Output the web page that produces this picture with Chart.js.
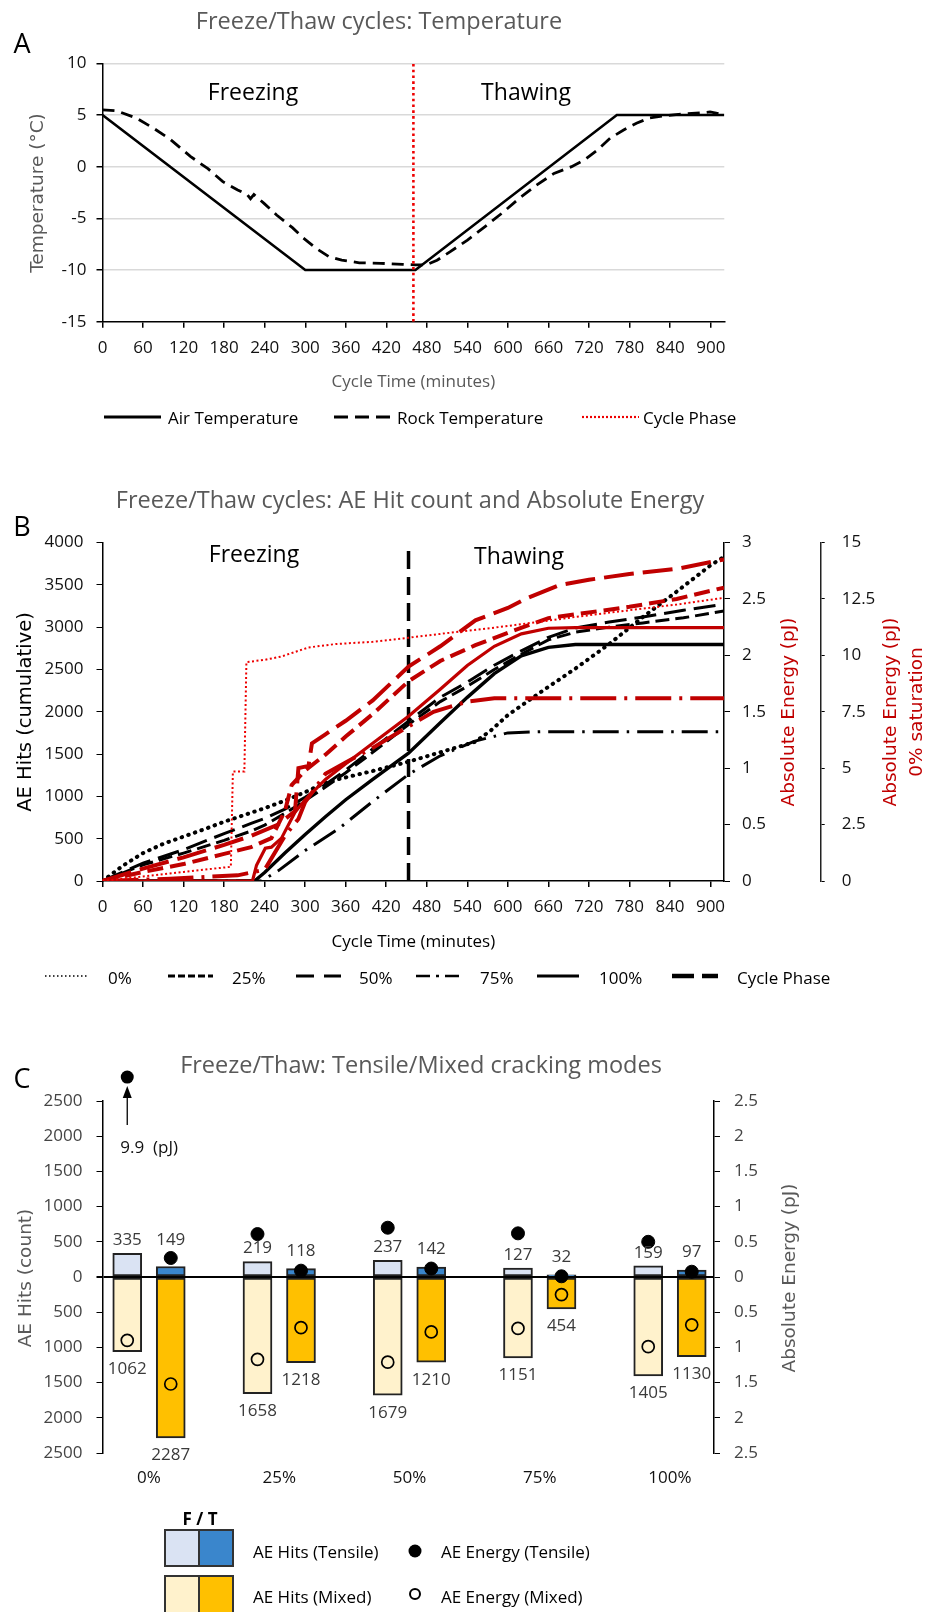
<!DOCTYPE html>
<html>
<head>
<meta charset="utf-8">
<title>Freeze/Thaw cycles</title>
<script src="https://cdn.jsdelivr.net/npm/chart.js@4.4.1/dist/chart.umd.min.js"></script>
<style>
  body { margin: 0; background: #fff; }
  #page { position: relative; width: 927px; height: 1612px; overflow: hidden; font-family: 'Open Sans', sans-serif; color: #000; }
  #page canvas { position: absolute; left: 0; }
  .txt { position: absolute; white-space: nowrap; line-height: 1; transform: translate(-50%, -50%); }
  .lft { transform: translate(0, -50%); }
  .rot { transform: translate(-50%, -50%) rotate(-90deg); font-family: 'DejaVu Sans', sans-serif; font-size: 18.5px; }
</style>
</head>
<body>
<div id="page">
  <canvas id="deco" width="927" height="1612" style="top:0"></canvas>
  <canvas id="chartA" width="927" height="440" style="top:0"></canvas>
  <canvas id="chartB" width="927" height="540" style="top:460px"></canvas>
  <canvas id="chartC" width="927" height="460" style="top:1040px"></canvas>
</div>
<script>
// ---- A: temperature (minutes, deg C)
const airTime = [0, 300, 463, 761, 920]
const airTemp = [5, -10, -10, 5, 5]
const rockTime = [0, 21, 50, 76, 101, 130, 156, 178, 200, 214, 219, 224, 239, 258, 281, 297, 316, 335, 354, 380, 412, 444, 463, 479, 495, 514, 540, 566, 591, 617, 642, 668, 694, 713, 732, 751, 771, 790, 809, 835, 860, 886, 899, 920]
const rockTemp = [5.5, 5.4, 4.7, 3.7, 2.6, 1.0, -0.2, -1.45, -2.25, -2.7, -3.1, -2.7, -3.55, -4.7, -5.9, -6.9, -7.9, -8.7, -9.05, -9.3, -9.35, -9.45, -9.5, -9.5, -9.05, -8.25, -7.1, -5.8, -4.5, -3.05, -1.8, -0.65, 0.0, 0.65, 1.6, 2.75, 3.55, 4.2, 4.7, 4.95, 5.1, 5.2, 5.3, 5.0]
const phaseTimeA = [460, 460]
const phaseTempA = [-15, 10]

// ---- B: cumulative AE hits (black) and absolute energy in pJ (red)
const hitsTime0 = [0, 30, 60, 90, 120, 150, 180, 210, 240, 270, 300, 330, 345, 400, 453, 500, 552, 575, 600, 650, 700, 750, 800, 850, 900, 920]
const hits0 = [0, 180, 330, 440, 525, 610, 700, 780, 860, 950, 1050, 1160, 1195, 1300, 1410, 1520, 1646, 1780, 1960, 2240, 2510, 2800, 3120, 3420, 3730, 3830]
const hitsTime = [0, 60, 120, 180, 220, 240, 270, 300, 330, 360, 400, 453, 500, 540, 580, 620, 660, 700, 750, 800, 860, 920]
const hits25 = [0, 190, 330, 480, 590, 660, 800, 950, 1110, 1280, 1520, 1850, 2120, 2300, 2500, 2680, 2850, 2940, 3000, 3050, 3110, 3190]
const hits50 = [0, 210, 370, 560, 680, 740, 850, 990, 1140, 1310, 1560, 1890, 2170, 2350, 2550, 2720, 2880, 2990, 3060, 3120, 3200, 3270]
const hitsTime75 = [0, 235, 260, 300, 350, 400, 453, 500, 550, 600, 650, 920]
const hits75 = [0, 0, 120, 360, 620, 940, 1260, 1480, 1650, 1750, 1765, 1765]
const hitsTime100 = [0, 225, 240, 270, 300, 330, 360, 400, 453, 500, 540, 580, 620, 660, 700, 920]
const hits100 = [0, 0, 100, 330, 550, 760, 960, 1200, 1510, 1870, 2170, 2450, 2660, 2760, 2795, 2795]

const energyTime0 = [0, 60, 120, 190, 193, 210, 213, 240, 265, 305, 345, 400, 453, 500, 550, 600, 650, 700, 780, 850, 920]
const energy0 = [0, 0.2, 0.4, 0.63, 4.85, 4.85, 9.7, 9.8, 9.95, 10.35, 10.5, 10.6, 10.78, 10.95, 11.12, 11.3, 11.5, 11.7, 12.0, 12.25, 12.55]
const energyTime25 = [0, 60, 120, 180, 220, 250, 270, 280, 300, 330, 360, 400, 453, 500, 552, 600, 660, 720, 780, 850, 920]
const energy25 = [0, 0.08, 0.15, 0.24, 0.3, 0.38, 0.62, 0.85, 0.98, 1.12, 1.28, 1.48, 1.77, 1.95, 2.09, 2.2, 2.33, 2.38, 2.43, 2.5, 2.6]
const energyTime50 = [0, 60, 120, 180, 220, 260, 285, 290, 305, 310, 330, 360, 400, 453, 500, 552, 600, 626, 675, 720, 780, 853, 920]
const energy50 = [0, 0.11, 0.21, 0.32, 0.4, 0.5, 0.62, 1.0, 1.02, 1.22, 1.3, 1.42, 1.6, 1.9, 2.08, 2.31, 2.42, 2.5, 2.62, 2.67, 2.72, 2.77, 2.85]
const energyTime75 = [0, 100, 200, 240, 270, 290, 300, 330, 360, 400, 453, 490, 540, 580, 920]
const energy75 = [0, 0.02, 0.05, 0.1, 0.4, 0.55, 0.7, 0.95, 1.05, 1.18, 1.37, 1.5, 1.59, 1.62, 1.62]
const energyTime100 = [0, 222, 228, 241, 250, 265, 285, 300, 330, 360, 400, 453, 500, 540, 580, 620, 660, 700, 920]
const energy100 = [0, 0, 0.14, 0.29, 0.3, 0.38, 0.61, 0.72, 0.9, 1.04, 1.22, 1.46, 1.7, 1.91, 2.08, 2.19, 2.24, 2.245, 2.245]
const phaseTimeB = [453, 453]
const phaseHitsB = [0, 3900]

// ---- C: tensile / mixed cracking (F = freezing, T = thawing)
const saturation = ['0%', '25%', '50%', '75%', '100%']
const hitsTensileF = [335, 219, 237, 127, 159]
const hitsTensileT = [149, 118, 142, 32, 97]
const hitsMixedF = [1062, 1658, 1679, 1151, 1405]
const hitsMixedT = [2287, 1218, 1210, 454, 1130]
const energyTensileF = [9.9, 0.61, 0.70, 0.62, 0.50]
const energyTensileT = [0.27, 0.09, 0.12, 0.01, 0.075]
const energyMixedF = [0.9, 1.17, 1.21, 0.73, 0.99]
const energyMixedT = [1.52, 0.72, 0.78, 0.25, 0.68]

const black = '#000'
const darkRed = '#c00000'
const brightRed = '#ee0000'
const grey = '#595959'

Chart.defaults.font.family = "'Open Sans', sans-serif"
Chart.defaults.font.size = 17
Chart.defaults.color = '#111'
Chart.defaults.animation = false
Chart.defaults.responsive = false
Chart.defaults.plugins.legend.display = false
Chart.defaults.plugins.tooltip.enabled = false
Chart.defaults.elements.point.radius = 0
Chart.defaults.elements.line.tension = 0

const pts = (xs, ys) => xs.map((x, i) => ({ x: x, y: ys[i] }))
const plain = v => String(v)

const timeAxis = () => ({
    type: 'linear', min: 0, max: 920, offset: false,
    ticks: { stepSize: 60, includeBounds: false, autoSkip: false, maxRotation: 0, padding: 10, callback: plain },
    grid: { drawOnChartArea: false, tickLength: 6, tickColor: black, lineWidth: 1.5 },
    border: { color: black, width: 1.5 },
    afterFit: s => { s.height = 40 }
})

// ---------- chart A
new Chart(document.getElementById('chartA'), {
    type: 'line',
    data: {
        datasets: [
            { data: pts(phaseTimeA, phaseTempA), borderColor: brightRed, borderWidth: 2.6, borderDash: [2.6, 3.2] },
            { data: pts(airTime, airTemp), borderColor: black, borderWidth: 2.6 },
            { data: pts(rockTime, rockTemp), borderColor: black, borderWidth: 2.8, borderDash: [12, 7] }
        ]
    },
    options: {
        layout: { padding: { left: 0, top: 63.3, right: 202.7, bottom: 78.3 } },
        scales: {
            x: timeAxis(),
            y: {
                min: -15, max: 10,
                ticks: { stepSize: 5, padding: 10, callback: plain },
                grid: { color: c => c.tick.value === -15 ? 'rgba(0,0,0,0)' : '#d9d9d9', lineWidth: 1.5, tickColor: black, tickLength: 6 },
                border: { color: black, width: 1.5 },
                afterFit: s => { s.width = 102.5 }
            }
        }
    }
})

// ---------- chart B
new Chart(document.getElementById('chartB'), {
    type: 'line',
    data: {
        datasets: [
            { data: pts(energyTime0, energy0), yAxisID: 'y3', borderColor: brightRed, borderWidth: 2, borderDash: [2, 2.5] },
            { data: pts(energyTime100, energy100), yAxisID: 'y2', borderColor: darkRed, borderWidth: 3.2 },
            { data: pts(energyTime75, energy75), yAxisID: 'y2', borderColor: darkRed, borderWidth: 4, borderDash: [36, 8, 3, 8] },
            { data: pts(energyTime50, energy50), yAxisID: 'y2', borderColor: darkRed, borderWidth: 4, borderDash: [30, 9] },
            { data: pts(energyTime25, energy25), yAxisID: 'y2', borderColor: darkRed, borderWidth: 4, borderDash: [16, 7] },
            { data: pts(phaseTimeB, phaseHitsB), borderColor: black, borderWidth: 3.5, borderDash: [18, 8] },
            { data: pts(hitsTime100, hits100), borderColor: black, borderWidth: 3.4 },
            { data: pts(hitsTime75, hits75), borderColor: black, borderWidth: 3, borderDash: [26, 8, 2.5, 8] },
            { data: pts(hitsTime, hits50), borderColor: black, borderWidth: 3, borderDash: [22, 8] },
            { data: pts(hitsTime, hits25), borderColor: black, borderWidth: 3, borderDash: [14, 6] },
            { data: pts(hitsTime0, hits0), borderColor: black, borderWidth: 4, borderDash: [0.5, 6.5], borderCapStyle: 'round' }
        ]
    },
    options: {
        layout: { padding: { left: 0, top: 82.5, right: 0, bottom: 79 } },
        scales: {
            x: timeAxis(),
            y: {
                position: 'left', min: 0, max: 4000,
                ticks: { stepSize: 500, padding: 13, callback: plain },
                grid: { drawOnChartArea: false, tickLength: 6, tickColor: black },
                border: { color: black, width: 1.5 },
                afterFit: s => { s.width = 102.5 }
            },
            y2: {
                position: 'right', weight: 1, min: 0, max: 3,
                ticks: { stepSize: 0.5, padding: 12, callback: plain },
                grid: { drawOnChartArea: false, tickLength: 6, tickColor: black },
                border: { color: black, width: 1.5 },
                afterFit: s => { s.width = 96.7 }
            },
            y3: {
                position: 'right', weight: 2, min: 0, max: 15,
                ticks: { stepSize: 2.5, padding: 17, callback: plain },
                grid: { drawOnChartArea: false, tickLength: 4, tickColor: black },
                border: { color: '#222', width: 1.5 },
                afterFit: s => { s.width = 106.3 }
            }
        }
    }
})

// ---------- chart C
const offF = -0.167
const offT = 0.167
const capE = 2.84   // where an off-scale energy dot is shown

const barLabels = {
    id: 'barLabels',
    afterDatasetsDraw(chart) {
        const ctx = chart.ctx
        const yE = chart.scales.y2
        const bars = [
            { index: 4, values: hitsTensileF, energy: energyTensileF, up: true },
            { index: 5, values: hitsTensileT, energy: energyTensileT, up: true },
            { index: 6, values: hitsMixedF, up: false },
            { index: 7, values: hitsMixedT, up: false }
        ]
        ctx.save()
        ctx.font = "17px 'Open Sans'"
        ctx.fillStyle = '#3a3a3a'
        ctx.textAlign = 'center'
        ctx.textBaseline = 'middle'
        bars.forEach(b => {
            chart.getDatasetMeta(b.index).data.forEach((el, i) => {
                let y
                if (b.up) {
                    const dotY = yE.getPixelForValue(Math.min(b.energy[i], capE))
                    y = Math.abs(dotY - el.y) < 14 ? Math.min(el.y, dotY) - 18 : el.y - 13
                } else {
                    y = el.y + 17.5
                }
                ctx.fillText(String(b.values[i]), el.x, y)
            })
        })
        // dot, arrow and value for an energy that is above the axis
        const m0 = chart.getDatasetMeta(0)
        energyTensileF.forEach((v, i) => {
            if (v <= yE.max) return
            const p = m0.data[i]
            ctx.fillStyle = black
            ctx.beginPath()
            ctx.arc(p.x, p.y, 6.5, 0, Math.PI * 2)
            ctx.fill()
            ctx.strokeStyle = black
            ctx.lineWidth = 1.3
            ctx.beginPath()
            ctx.moveTo(p.x, p.y + 48)
            ctx.lineTo(p.x, p.y + 19)
            ctx.stroke()
            ctx.beginPath()
            ctx.moveTo(p.x, p.y + 9)
            ctx.lineTo(p.x - 4.5, p.y + 21)
            ctx.lineTo(p.x + 4.5, p.y + 21)
            ctx.closePath()
            ctx.fill()
            ctx.textAlign = 'left'
            ctx.fillStyle = '#111'
            ctx.fillText(v + '  (pJ)', p.x - 7, p.y + 71)
        })
        ctx.restore()
    }
}

const dot = (values, off, sign, filled) => ({
    type: 'line', showLine: false, yAxisID: 'y2', order: 0, clip: false,
    data: values.map((v, i) => ({ x: i + off, y: sign * Math.min(v, capE) })),
    pointStyle: 'circle',
    pointRadius: filled ? 6.5 : 6,
    pointBackgroundColor: filled ? black : 'rgba(0,0,0,0)',
    pointBorderColor: black,
    pointBorderWidth: filled ? 1 : 1.7
})

const bar = (values, off, sign, color) => ({
    type: 'bar', order: 1,
    data: values.map((v, i) => ({ x: i + off, y: sign * v })),
    backgroundColor: color,
    borderColor: '#222',
    borderWidth: 2,
    borderSkipped: false,
    barThickness: 29,
    grouped: false
})

new Chart(document.getElementById('chartC'), {
    type: 'bar',
    data: {
        datasets: [
            dot(energyTensileF, offF, 1, true),
            dot(energyTensileT, offT, 1, true),
            dot(energyMixedF, offF, -1, false),
            dot(energyMixedT, offT, -1, false),
            bar(hitsTensileF, offF, 1, '#dae3f3'),
            bar(hitsTensileT, offT, 1, '#3a86cc'),
            bar(hitsMixedF, offF, -1, '#fff2cc'),
            bar(hitsMixedT, offT, -1, '#ffc000')
        ]
    },
    options: {
        layout: { padding: { left: 0, top: 61, right: 0, bottom: 7 } },
        scales: {
            x: {
                type: 'linear', min: -0.357, max: 4.338, offset: false,
                afterBuildTicks: s => { s.ticks = saturation.map((c, i) => ({ value: i })) },
                ticks: { callback: v => saturation[v], autoSkip: false, maxRotation: 0, padding: 15 },
                grid: { display: false, drawTicks: false },
                border: { display: false },
                afterFit: s => { s.height = 40 }
            },
            y: {
                min: -2500, max: 2500,
                ticks: { stepSize: 500, padding: 14, color: '#444', callback: v => String(Math.abs(v)) },
                grid: {
                    color: c => c.tick.value === 0 ? black : 'rgba(0,0,0,0)',
                    lineWidth: c => c.tick.value === 0 ? 2 : 1,
                    tickColor: black, tickLength: 6
                },
                border: { color: black, width: 1.5 },
                afterFit: s => { s.width = 102.5 }
            },
            y2: {
                position: 'right', min: -2.5, max: 2.5,
                ticks: { stepSize: 0.5, padding: 14, color: '#444', callback: v => String(Math.abs(v)) },
                grid: { drawOnChartArea: false, tickLength: 6, tickColor: black },
                border: { color: black, width: 1.5 },
                afterFit: s => { s.width = 213 }
            }
        }
    },
    plugins: [barLabels]
})

// ---------- texts
const page = document.getElementById('page')
const addText = (text, x, y, style, cls) => {
    const d = document.createElement('div')
    d.className = 'txt' + (cls ? ' ' + cls : '')
    d.textContent = text
    d.style.left = x + 'px'
    d.style.top = y + 'px'
    Object.assign(d.style, style || {})
    page.appendChild(d)
}
const titleStyle = { fontSize: '23.5px', color: grey }
const letterStyle = { fontSize: '27px' }
const bigStyle = { fontSize: '23px' }
const legStyle = { fontSize: '17px' }

addText('A', 22, 42, letterStyle)
addText('Freeze/Thaw cycles: Temperature', 379, 21, titleStyle)
addText('Freezing', 253, 91, bigStyle)
addText('Thawing', 526, 91, bigStyle)
addText('Temperature (°C)', 37, 192.5, { color: grey }, 'rot')
addText('Cycle Time (minutes)', 413.4, 380, { fontSize: '17px', color: grey })

addText('B', 22, 525, letterStyle)
addText('Freeze/Thaw cycles: AE Hit count and Absolute Energy', 410, 500, titleStyle)
addText('Freezing', 254, 553, bigStyle)
addText('Thawing', 519, 555, bigStyle)
addText('AE Hits (cumulative)', 25, 712, { color: black, fontSize: '19.5px' }, 'rot')
addText('Absolute Energy (pJ)', 788, 712, { color: darkRed }, 'rot')
addText('Absolute Energy (pJ)', 890, 712, { color: darkRed }, 'rot')
addText('0% saturation', 916, 712, { color: darkRed }, 'rot')
addText('Cycle Time (minutes)', 413.4, 940, { fontSize: '17px', color: black })

addText('C', 22, 1077, letterStyle)
addText('Freeze/Thaw: Tensile/Mixed cracking modes', 421, 1065, titleStyle)
addText('AE Hits (count)', 25, 1278, { color: grey }, 'rot')
addText('Absolute Energy (pJ)', 789, 1278, { color: grey }, 'rot')

// legends
const deco = document.getElementById('deco').getContext('2d')
const sample = (x1, x2, y, color, width, dash, cap) => {
    deco.save()
    deco.strokeStyle = color
    deco.lineWidth = width
    deco.setLineDash(dash)
    deco.lineCap = cap || 'butt'
    deco.beginPath()
    deco.moveTo(x1, y)
    deco.lineTo(x2, y)
    deco.stroke()
    deco.restore()
}

sample(104, 161, 417, black, 3, [])
addText('Air Temperature', 168, 417, legStyle, 'lft')
sample(334, 390, 417, black, 3, [14, 7])
addText('Rock Temperature', 397, 417, legStyle, 'lft')
sample(582, 639, 417, brightRed, 2.2, [2, 2])
addText('Cycle Phase', 643, 417, legStyle, 'lft')

const legB = [
    { x1: 45, x2: 87, tx: 108, text: '0%', w: 1.5, dash: [1.5, 2.5] },
    { x1: 168, x2: 213, tx: 232, text: '25%', w: 3, dash: [7, 3] },
    { x1: 296, x2: 341, tx: 359, text: '50%', w: 3, dash: [18, 10] },
    { x1: 416, x2: 460, tx: 480, text: '75%', w: 2.6, dash: [14, 6, 3, 6] },
    { x1: 537, x2: 579, tx: 599, text: '100%', w: 3, dash: [] },
    { x1: 672, x2: 718, tx: 737, text: 'Cycle Phase', w: 4.5, dash: [22, 8] }
]
legB.forEach(l => {
    sample(l.x1, l.x2, 976, black, l.w, l.dash)
    addText(l.text, l.tx, 977, legStyle, 'lft')
})

// legend C
const box = (x, y, w, h, color) => {
    deco.fillStyle = color
    deco.fillRect(x, y, w, h)
    deco.strokeStyle = '#333'
    deco.lineWidth = 2
    deco.strokeRect(x, y, w, h)
}
box(165, 1530, 34, 36, '#dae3f3')
box(199, 1530, 34, 36, '#3a86cc')
box(165, 1576, 34, 40, '#fff2cc')
box(199, 1576, 34, 40, '#ffc000')
deco.fillStyle = black
deco.beginPath(); deco.arc(415, 1551, 6.5, 0, Math.PI * 2); deco.fill()
deco.strokeStyle = black
deco.lineWidth = 2
deco.beginPath(); deco.arc(415, 1594, 5, 0, Math.PI * 2); deco.stroke()

addText('F / T', 200, 1518, { fontSize: '17px', fontWeight: 'bold' })
addText('AE Hits (Tensile)', 253, 1551, legStyle, 'lft')
addText('AE Energy (Tensile)', 441, 1551, legStyle, 'lft')
addText('AE Hits (Mixed)', 253, 1596, legStyle, 'lft')
addText('AE Energy (Mixed)', 441, 1596, legStyle, 'lft')
</script>
</body>
</html>
